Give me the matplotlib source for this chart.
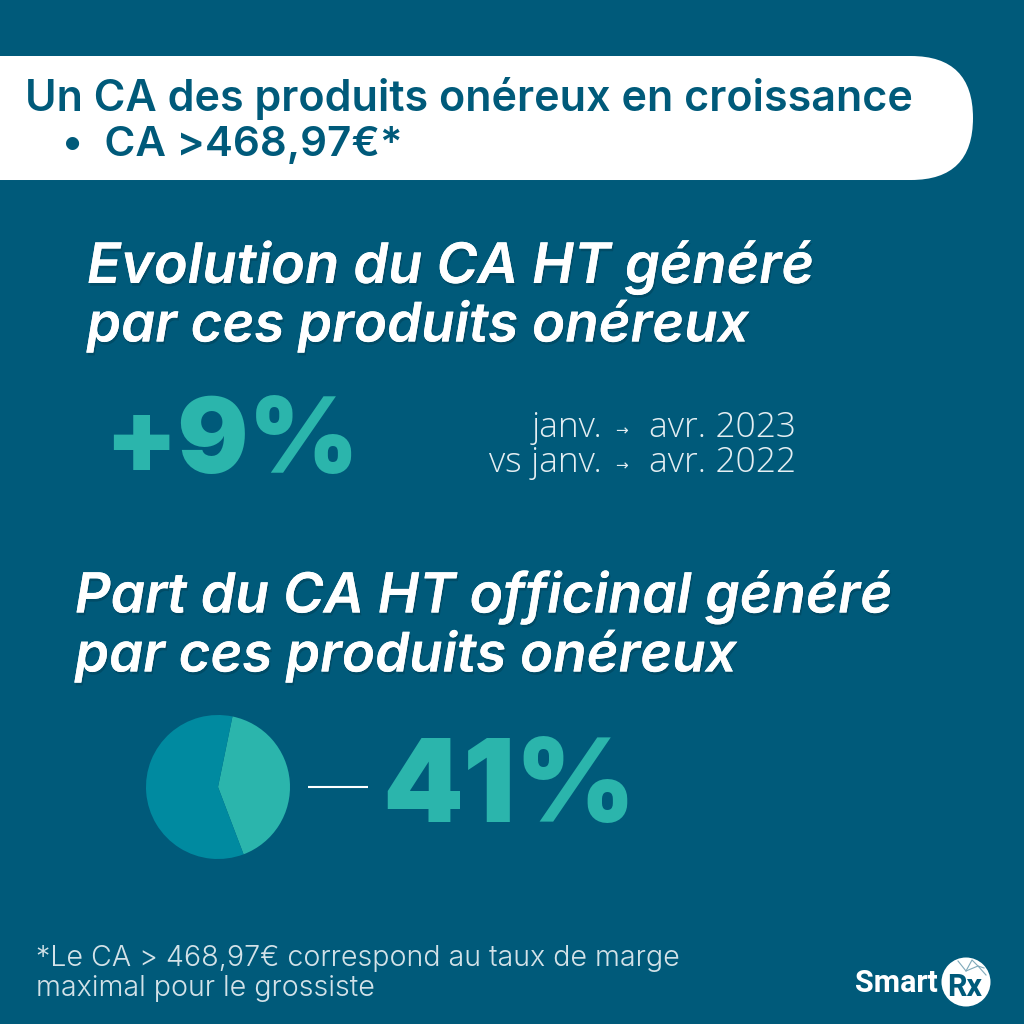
import matplotlib
matplotlib.use("Agg")
import matplotlib.pyplot as plt
import matplotlib.patheffects as pe
from matplotlib.patches import FancyBboxPatch, Circle

BG = "#005a7a"
TEAL = "#2bb5ac"
DARK_TEAL = "#008aa0"
HEAD_FONT = ["Inter", "Open Sans"]

banner_lines = ["Un CA des produits onéreux en croissance", "•  CA >468,97€*"]
title_1 = ["Evolution du CA HT généré", "par ces produits onéreux"]
title_2 = ["Part du CA HT officinal généré", "par ces produits onéreux"]
evolution = "+9%"
period_start = ["janv.", "vs janv."]
period_end = ["avr. 2023", "avr. 2022"]
pie_labels = ["Produits onéreux", "Autres"]
pie_values = [41, 59]
share = "41%"
footnote = ["*Le CA > 468,97€ correspond au taux de marge", "maximal pour le grossiste"]

fig = plt.figure(figsize=(10.24, 10.24), dpi=100, facecolor=BG)
ax = fig.add_axes([0, 0, 1, 1])
ax.set_facecolor(BG)

# white banner, runs off the left edge
banner = FancyBboxPatch((-200, 56 + 62), 1173 - 62, 0.01, boxstyle="round,pad=62,rounding_size=62",
                        fc="white", ec="none")
ax.add_patch(banner)
ax.text(25, 99, banner_lines[0], color=BG, fontsize=31, family=HEAD_FONT, weight=600, va="center")
ax.text(62, 145, banner_lines[1], color=BG, fontsize=30.3, family=HEAD_FONT, weight=600, va="center")

shadow = [pe.withSimplePatchShadow(offset=(1, -2), shadow_rgbFace="black", alpha=0.15), pe.Normal()]
for y, s, size in zip([267, 326], title_1, [40.2, 39.3]):
    ax.text(87, y, s, color="white", fontsize=size, family=HEAD_FONT, weight=600, style="italic",
            va="center", path_effects=shadow)
for y, s, size in zip([597, 656], title_2, [39.8, 39.3]):
    ax.text(75, y, s, color="white", fontsize=size, family=HEAD_FONT, weight=600, style="italic",
            va="center", path_effects=shadow)

ax.text(104, 446, evolution, color=TEAL, fontsize=76, family=HEAD_FONT, weight=900, va="center")
ax.text(382, 792, share, color=TEAL, fontsize=83, family=HEAD_FONT, weight=900, va="center")

for y, a, b in zip([428, 463], period_start, period_end):
    ax.text(602, y, a, color="#e4eef2", fontsize=25.5, family="Open Sans", weight=300, ha="right", va="center")
    ax.text(621, y + 3, "→", color="#e4eef2", fontsize=11, family="DejaVu Sans", ha="center", va="center")
    ax.text(796, y, b, color="#e4eef2", fontsize=25.5, family="Open Sans", weight=300, ha="right", va="center")

# pie, y axis is inverted so counterclock here reads clockwise on screen
ax.pie(pie_values, colors=[TEAL, DARK_TEAL], startangle=-78.4, counterclock=True,
       center=(218, 787), radius=72, frame=True, wedgeprops={"linewidth": 0})
ax.plot([308, 368], [787, 787], color="white", lw=1.5, solid_capstyle="butt")

for y, s in zip([958, 988], footnote):
    ax.text(36, y, s, color="#d3e2e8", fontsize=20.6, family="Inter", weight=300, va="center")

# logo
ax.text(855, 983, "Smart", color="white", fontsize=22, family="Roboto", weight="bold", va="center")
ax.add_patch(Circle((966, 982), 24.5, fc="white", ec="none"))
ax.text(965, 987, "Rx", color=BG, fontsize=22, family="Roboto", weight="bold", ha="center", va="center")
ax.plot([958, 966, 978, 986], [961, 971, 966, 975], color="#7fa9ba", lw=0.8)
ax.plot([966, 972, 978, 984], [971, 960, 966, 968], color="#7fa9ba", lw=0.8)

ax.set_xlim(0, 1024)
ax.set_ylim(1024, 0)
ax.set_aspect("auto")
ax.axis("off")
fig.savefig("out.png", dpi=100, facecolor=BG)
